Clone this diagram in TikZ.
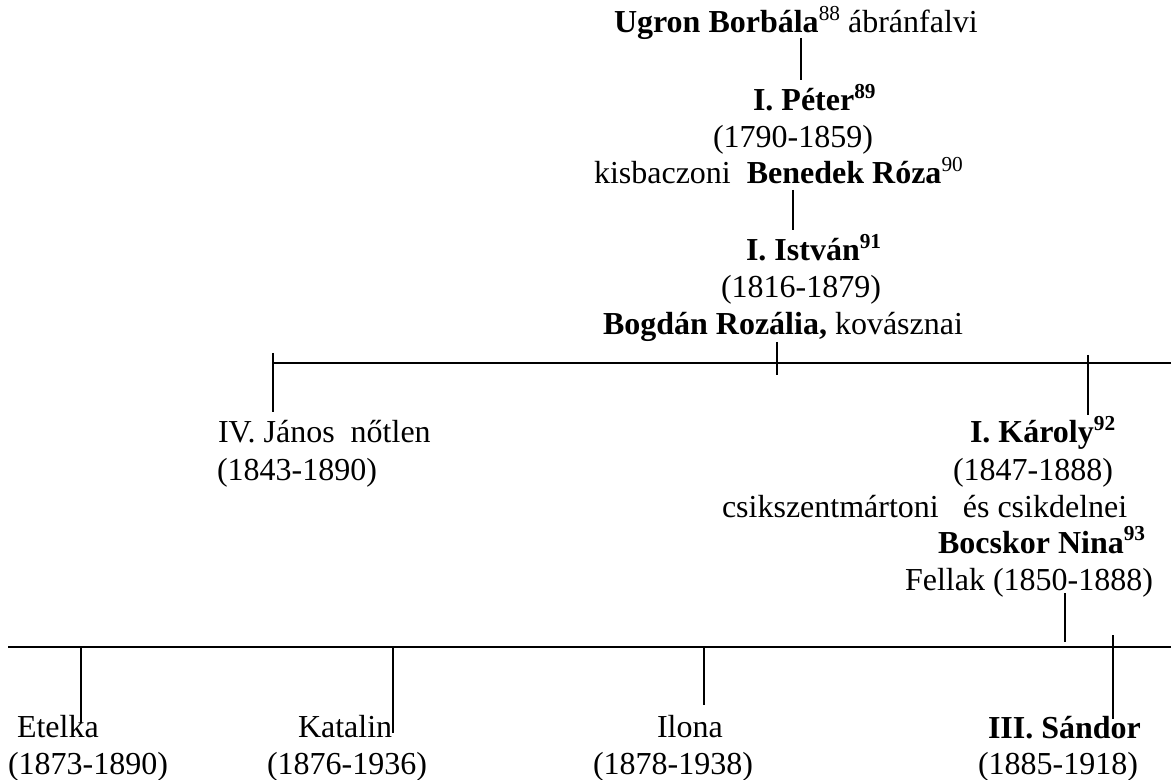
\documentclass[tikz,border=0pt]{standalone}
\usepackage{fontspec}
\setmainfont{Liberation Serif}
\newcommand{\mysup}[1]{\raisebox{0.38em}{\fontsize{16}{16}\selectfont #1}}
\begin{document}
\begin{tikzpicture}[x=0.75pt,y=-0.75pt,
  lbl/.style={anchor=base west,inner sep=0pt,outer sep=0pt,font=\fontsize{24}{27.6}\selectfont},
  conn/.style={line width=1.1pt,black}]
\useasboundingbox (0,0) rectangle (1171,780);
% texts
\node[lbl] (ugron) at (614,33) {\textbf{Ugron Borbála}\mysup{88} ábránfalvi};
\node[lbl] (peter) at (753,111) {\textbf{I. Péter\mysup{89}}};
\node[lbl] (peterd) at (713,148) {(1790-1859)};
\node[lbl] (roza) at (594,184) {kisbaczoni\ \ \textbf{Benedek Róza}\mysup{90}};
\node[lbl] (istvan) at (746,261) {\textbf{I. István\mysup{91}}};
\node[lbl] (istvand) at (721,298) {(1816-1879)};
\node[lbl] (rozalia) at (603,335) {\textbf{Bogdán Rozália,} kovásznai};
\node[lbl] (janos) at (218,443) {IV. János\ \ nőtlen};
\node[lbl] (janosd) at (217,480) {(1843-1890)};
\node[lbl] (karoly) at (970,443) {\textbf{I. Károly\mysup{92}}};
\node[lbl] (karolyd) at (953,480) {(1847-1888)};
\node[lbl] (csik) at (722,517) {csikszentmártoni\ \ \ és csikdelnei};
\node[lbl] (nina) at (938,553) {\textbf{Bocskor Nina\mysup{93}}};
\node[lbl] (fellak) at (905,590) {Fellak (1850-1888)};
\node[lbl] (etelka) at (17,737) {Etelka};
\node[lbl] (etelkad) at (8,774) {(1873-1890)};
\node[lbl] (katalin) at (298,737) {Katalin};
\node[lbl] (katalind) at (267,774) {(1876-1936)};
\node[lbl] (ilona) at (657,737) {Ilona};
\node[lbl] (ilonad) at (593,774) {(1878-1938)};
\node[lbl] (sandor) at (988,738) {\textbf{III. Sándor}};
\node[lbl] (sandord) at (978,774) {(1885-1918)};
% connector end points
\coordinate (a1) at (801,38);  \coordinate (a2) at (801,80);
\coordinate (b1) at (793,190); \coordinate (b2) at (793,230);
\coordinate (c1) at (777,342); \coordinate (c2) at (777,375);
\coordinate (h1l) at (273,363); \coordinate (h1r) at (1171,363);
\coordinate (j1) at (273,353); \coordinate (j2) at (273,412);
\coordinate (k1) at (1088,355); \coordinate (k2) at (1088,415);
\coordinate (f1) at (1065,593); \coordinate (f2) at (1065,642);
\coordinate (h2l) at (8,647); \coordinate (h2r) at (1171,647);
\coordinate (s1) at (1113,635); \coordinate (s2) at (1113,719);
\coordinate (e1) at (81,647); \coordinate (e2) at (81,723);
\coordinate (t1) at (393,647); \coordinate (t2) at (393,733);
\coordinate (i1) at (704,647); \coordinate (i2) at (704,705);
% connectors
\draw[conn] (a1) -- (a2);
\draw[conn] (b1) -- (b2);
\draw[conn] (c1) -- (c2);
\draw[conn] (h1l) -- (h1r);
\draw[conn] (j1) -- (j2);
\draw[conn] (k1) -- (k2);
\draw[conn] (f1) -- (f2);
\draw[conn] (h2l) -- (h2r);
\draw[conn] (s1) -- (s2);
\draw[conn] (e1) -- (e2);
\draw[conn] (t1) -- (t2);
\draw[conn] (i1) -- (i2);
\end{tikzpicture}
\end{document}
